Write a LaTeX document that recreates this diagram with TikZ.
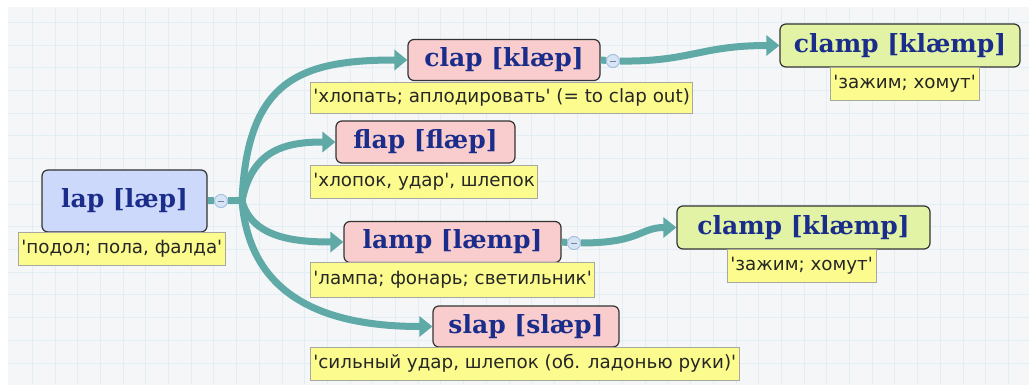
\documentclass[tikz,border=0pt]{standalone}
\usepackage{fontspec}
\usetikzlibrary{arrows.meta}
\newfontfamily\titlefont{DejaVu Serif Bold}
\newfontfamily\glossfont{DejaVu Sans}
\definecolor{bgc}{HTML}{F4F6F8}
\definecolor{gridc}{HTML}{E2EEF4}
\definecolor{titlec}{HTML}{1B2D8B}
\definecolor{bluef}{HTML}{CDD9FB}
\definecolor{pinkf}{HTML}{F9CDCD}
\definecolor{greenf}{HTML}{E2F3A6}
\definecolor{glossf}{HTML}{FCFC8E}
\definecolor{glossd}{HTML}{A8A8A0}
\definecolor{tealc}{HTML}{5FA9A7}
\definecolor{knobf}{HTML}{D6E4F6}
\definecolor{knobd}{HTML}{A3BEDE}
\tikzset{
  word/.style={draw=black!80, line width=1.2pt, rounded corners=6pt,
    font=\titlefont\fontsize{25}{27}\selectfont, text=titlec, inner sep=0pt},
  rootw/.style={word, fill=bluef},
  childw/.style={word, fill=pinkf},
  leafw/.style={word, fill=greenf},
  gloss/.style={draw=glossd, line width=0.8pt, fill=glossf, inner xsep=3pt, inner ysep=0pt,
    anchor=west, font=\glossfont\fontsize{18.3}{20}\selectfont, text=black!85},
  link/.style={draw=tealc, line width=7pt},
  arrowlink/.style={link, -{Triangle[length=13pt,width=20pt]}},
  knob/.style={circle, draw=knobd, fill=knobf, line width=0.8pt, minimum size=13pt,
    inner sep=0pt, path picture={\draw[knobd!70!black, line width=0.8pt]
      ([xshift=-3pt]path picture bounding box.center) -- ([xshift=3pt]path picture bounding box.center);}}
}
\begin{document}
\begin{tikzpicture}[x=1pt,y=-1pt]
\useasboundingbox (0,0) rectangle (1029,385);
\fill[white] (0,0) rectangle (1029,385);
\fill[bgc] (8,7) rectangle (1029,385);
\foreach \i in {1,...,45} {
  \pgfmathsetmacro{\xx}{9.5+22.7*\i}
  \draw[gridc, line width=0.8pt] (\xx,7) -- (\xx,385);
}
\foreach \i in {1,...,17} {
  \pgfmathsetmacro{\yy}{-0.3+22.7*\i}
  \draw[gridc, line width=0.8pt] (8,\yy) -- (1029,\yy);
}

\coordinate (hub) at (242,201);
\coordinate (h1) at (620,61);
\coordinate (h3) at (581,243);

% title nodes
\node[rootw, minimum width=165pt, minimum height=62pt] (lap) at (124.5,201) {lap [læp]};
\node[childw, minimum width=192pt, minimum height=41pt] (clap) at (504,60) {clap [klæp]};
\node[leafw, minimum width=240pt, minimum height=43pt] (clampA) at (900,45.5) {clamp [klæmp]};
\node[childw, minimum width=179pt, minimum height=42pt] (flap) at (425.5,142) {flap [flæp]};
\node[childw, minimum width=217pt, minimum height=41pt] (lamp) at (452.5,242) {lamp [læmp]};
\node[leafw, minimum width=253pt, minimum height=43pt] (clampB) at (803.5,227.5) {clamp [klæmp]};
\node[childw, minimum width=186pt, minimum height=41pt] (slap) at (526,326.5) {slap [slæp]};

\node[knob] (k0) at (221,201) {};
\node[knob] (k1) at (613,61) {};
\node[knob] (k3) at (574,243) {};

% connectors
\draw[link] (lap.east) -- (k0);
\draw[link] (k0) -- (hub);
\draw[arrowlink] (hub) .. controls (247,80) and (300,60) .. (clap.west);
\draw[arrowlink] (hub) .. controls (252,150) and (285,142) .. (flap.west);
\draw[arrowlink] (hub) .. controls (252,238) and (295,242) .. (lamp.west);
\draw[arrowlink] (hub) .. controls (250,300) and (330,326.5) .. (slap.west);
\draw[link] (clap.east) -- (k1);
\draw[arrowlink] (h1) .. controls (690,62) and (700,45.5) .. (clampA.west);
\draw[link] (lamp.east) -- (k3);
\draw[arrowlink] (h3) .. controls (640,243) and (640,227.5) .. (clampB.west);
\node[knob] at (k0) {};
\node[knob] at (k1) {};
\node[knob] at (k3) {};

% glosses
\node[gloss, minimum height=33pt] (g0) at (18,248.5) {'подол; пола, фалда'};
\node[gloss, minimum height=31pt] (g1) at (310,97.5) {'хлопать; аплодировать' (= to clap out)};
\node[gloss, minimum height=33pt] (g1a) at (830,83.5) {'зажим; хомут'};
\node[gloss, minimum height=33pt] (g2) at (310,181.5) {'хлопок, удар', шлепок};
\node[gloss, minimum height=35pt] (g3) at (310,279.5) {'лампа; фонарь; светильник'};
\node[gloss, minimum height=33pt] (g3a) at (727,265.5) {'зажим; хомут'};
\node[gloss, minimum height=33pt] (g4) at (310,363.5) {'сильный удар, шлепок (об. ладонью руки)'};
\end{tikzpicture}
\end{document}
